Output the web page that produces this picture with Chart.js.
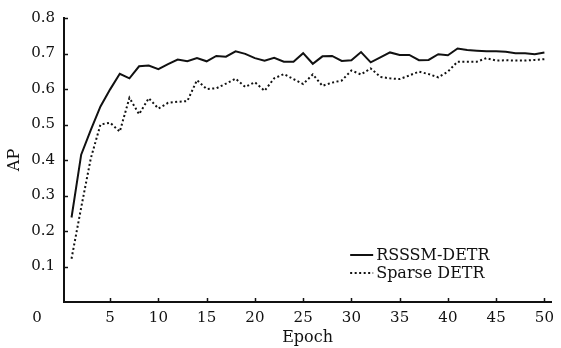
<!DOCTYPE html>
<html>
<head>
<meta charset="utf-8">
<script src="https://cdn.jsdelivr.net/npm/chart.js@4"></script>
<style>
  html, body { margin: 0; padding: 0; background: #fff; }
  #wrap { width: 561px; height: 348px; }
</style>
</head>
<body>
<div id="wrap"><canvas id="apChart"></canvas></div>
<script>
const epochs = [1, 2, 3, 4, 5, 6, 7, 8, 9, 10, 11, 12, 13, 14, 15, 16, 17, 18, 19, 20,
  21, 22, 23, 24, 25, 26, 27, 28, 29, 30, 31, 32, 33, 34, 35, 36, 37, 38, 39, 40,
  41, 42, 43, 44, 45, 46, 47, 48, 49, 50];

const rsssmDetr = [0.238, 0.415, 0.485, 0.551, 0.599, 0.643, 0.630, 0.664, 0.666, 0.656,
  0.670, 0.683, 0.678, 0.687, 0.678, 0.693, 0.691, 0.706, 0.699, 0.687,
  0.680, 0.688, 0.677, 0.677, 0.701, 0.671, 0.692, 0.693, 0.679, 0.681,
  0.704, 0.675, 0.689, 0.703, 0.696, 0.696, 0.681, 0.682, 0.698, 0.695,
  0.714, 0.710, 0.708, 0.706, 0.706, 0.705, 0.701, 0.701, 0.698, 0.703];

const sparseDetr = [0.122, 0.266, 0.405, 0.500, 0.505, 0.480, 0.575, 0.529, 0.574, 0.545,
  0.561, 0.564, 0.566, 0.625, 0.600, 0.602, 0.615, 0.629, 0.606, 0.619,
  0.595, 0.630, 0.642, 0.628, 0.614, 0.641, 0.609, 0.618, 0.624, 0.652,
  0.641, 0.658, 0.634, 0.630, 0.628, 0.638, 0.649, 0.642, 0.633, 0.649,
  0.677, 0.677, 0.677, 0.687, 0.680, 0.681, 0.680, 0.680, 0.682, 0.684];

const seriesNames = ['RSSSM-DETR', 'Sparse DETR'];

const serif = '"DejaVu Serif", "Liberation Serif", serif';
const ink = '#111';

// inward tick marks, the lone "0" at the origin and the legend box
const decorations = {
  id: 'decorations',
  afterDraw(chart) {
    const ctx = chart.ctx;
    const xs = chart.scales.x, ys = chart.scales.y;
    ctx.save();
    ctx.strokeStyle = ink;
    ctx.lineWidth = 1.5;
    ys.ticks.forEach(t => {
      if (t.value === 0) return;
      const y = Math.round(ys.getPixelForValue(t.value)) + 0.5;
      ctx.beginPath(); ctx.moveTo(ys.right, y); ctx.lineTo(ys.right + 4, y); ctx.stroke();
    });
    xs.ticks.forEach(t => {
      const x = Math.round(xs.getPixelForValue(t.value)) + 0.5;
      ctx.beginPath(); ctx.moveTo(x, xs.top); ctx.lineTo(x, xs.top - 4); ctx.stroke();
    });

    ctx.fillStyle = ink;
    ctx.font = '15px ' + serif;
    ctx.textBaseline = 'middle';
    ctx.textAlign = 'left';
    const lblLeft = ys.right - 9 - ctx.measureText('0.8').width;
    ctx.fillText('0', lblLeft + 1, xs.top + 16);

    // legend
    ctx.font = '16px ' + serif;
    const area = chart.chartArea;
    const lx = area.right - 201, ly = area.bottom - 47;
    chart.data.datasets.forEach((ds, i) => {
      const y = ly + i * 18;
      ctx.strokeStyle = ds.borderColor;
      ctx.lineWidth = ds.borderWidth;
      ctx.setLineDash(ds.borderDash || []);
      ctx.beginPath(); ctx.moveTo(lx, y); ctx.lineTo(lx + 23, y); ctx.stroke();
      ctx.setLineDash([]);
      ctx.fillText(ds.label, lx + 26, y + 1);
    });
    ctx.restore();
  }
};

new Chart(document.getElementById('apChart'), {
  type: 'line',
  data: {
    labels: epochs,
    datasets: [
      { label: seriesNames[0], data: rsssmDetr, borderColor: ink, borderWidth: 2, pointRadius: 0, tension: 0, fill: false },
      { label: seriesNames[1], data: sparseDetr, borderColor: ink, borderWidth: 2, borderDash: [2, 2.5], pointRadius: 0, tension: 0, fill: false }
    ]
  },
  options: {
    responsive: true,
    maintainAspectRatio: false,
    animation: false,
    layout: { padding: { top: 15, right: 3, left: 0, bottom: 0 } },
    plugins: { legend: { display: false }, tooltip: { enabled: false } },
    scales: {
      x: {
        type: 'linear',
        min: 0.22,
        max: 50.7,
        grid: { display: false, drawTicks: false },
        border: { display: true, color: ink, width: 2 },
        ticks: { stepSize: 5, includeBounds: false, padding: 7, color: ink, font: { family: serif, size: 15 }, maxRotation: 0 },
        title: { display: true, text: 'Epoch', color: ink, font: { family: serif, size: 16 }, padding: { top: 0, bottom: 1 } },
        afterFit(scale) { scale.height = 46; }
      },
      y: {
        min: 0,
        max: 0.8,
        grid: { display: false, drawTicks: false },
        border: { display: true, color: ink, width: 2 },
        ticks: {
          stepSize: 0.1, padding: 9, color: ink, font: { family: serif, size: 15 },
          callback: v => v === 0 ? '' : v.toFixed(1)
        },
        title: { display: true, text: 'AP', color: ink, font: { family: serif, size: 16 }, padding: { top: 5, bottom: 0 } },
        afterFit(scale) { scale.width = 64; }
      }
    }
  },
  plugins: [decorations]
});
</script>
</body>
</html>
